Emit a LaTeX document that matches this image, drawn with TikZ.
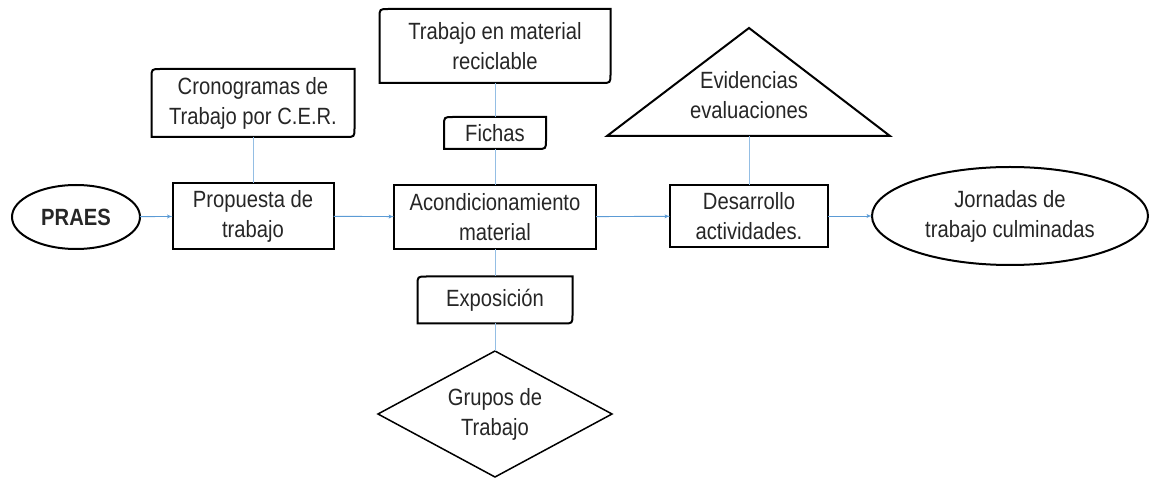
\documentclass[tikz,border=0pt]{standalone}
\usepackage{fontspec}
\setmainfont{Liberation Sans}[FakeStretch=0.86]
\usepackage{tikz}
\usetikzlibrary{positioning}
\usetikzlibrary{shapes,arrows}
\definecolor{linkblue}{RGB}{91,155,213}
\definecolor{txtgray}{RGB}{38,38,38}
\tikzstyle{block} = [rectangle, draw, line width=2bp, align=center,
    text=txtgray, outer sep=0pt, inner sep=0pt]
\tikzstyle{softbox} = [rectangle, align=center, text=txtgray,
    outer sep=0pt, inner sep=0pt]
\tikzstyle{oval} = [ellipse, draw, line width=2bp, align=center,
    text=txtgray, outer sep=0pt, inner sep=0pt]
\tikzstyle{decision} = [diamond, draw, line width=1.5bp, align=center,
    text=txtgray, outer sep=0pt, inner sep=0pt, aspect=1.9]
\tikzstyle{frame} = [draw, line width=2bp]
\tikzstyle{line} = [draw, linkblue, line width=0.9bp, -latex']
\tikzstyle{link} = [draw, linkblue!65, line width=0.9bp]
% box with two rounded corners (top left, bottom right)
\newcommand{\diagframe}[1]{%
  \draw[frame] ([yshift=-9bp]#1.north west) .. controls (#1.north west) ..
    ([xshift=9bp]#1.north west) -- (#1.north east) --
    ([yshift=9bp]#1.south east) .. controls (#1.south east) ..
    ([xshift=-9bp]#1.south east) -- (#1.south west) -- cycle;}

\begin{document}
\begin{tikzpicture}[x=1bp, y=-1bp, font=\fontsize{23.5bp}{30bp}\selectfont]
    \useasboundingbox (0,0) rectangle (1152,479);
        % Nodes
    \node [oval, minimum width=128bp, minimum height=64bp] (praes) at (76,217) {\textbf{PRAES}};
    \node [block, minimum width=161bp, minimum height=66bp] (propuesta) at (253,216) {Propuesta de\\trabajo};
    \node [softbox, minimum width=203bp, minimum height=68bp] (cronog) at (253,103) {Cronogramas de\\Trabajo por C.E.R.};
    \node [block, minimum width=202bp, minimum height=64bp] (acond) at (495,217) {Acondicionamiento\\material};
    \node [softbox, minimum width=231bp, minimum height=74bp] (reciclable) at (495,46) {Trabajo en material\\reciclable};
    \node [softbox, minimum width=102bp, minimum height=32bp] (fichas) at (495,133) {Fichas};
    \node [softbox, minimum width=155bp, minimum height=47bp] (expos) at (495,300) {Exposición};
    \node [decision, minimum width=234bp, minimum height=126bp] (grupos) at (495,414) {Grupos de\\Trabajo};
    \node [block, minimum width=158bp, minimum height=62bp] (desarrollo) at (749,216) {Desarrollo\\actividades.};
    \node [align=center, text=txtgray, inner sep=0pt] (evid) at (749,95) {Evidencias\\evaluaciones};
    \node [oval, minimum width=276bp, minimum height=98bp] (jornadas) at (1010,216) {Jornadas de\\trabajo culminadas};
    \coordinate (evidtop) at (749,28);
    \coordinate (evidleft) at (607,136);
    \coordinate (evidright) at (890,136);
    \coordinate (evidbase) at (749,136);
        % Frames
    \diagframe{cronog}
    \diagframe{reciclable}
    \diagframe{fichas}
    \diagframe{expos}
    \draw [frame] (evidtop) -- (evidright) -- (evidleft) -- cycle;
        % Edges
    \path [line] (praes) -- (propuesta);
    \path [line] (propuesta) -- (acond);
    \path [line] (acond) -- (desarrollo);
    \path [line] (desarrollo) -- (jornadas);
    \path [link] (cronog) -- (propuesta);
    \path [link] (reciclable) -- (fichas);
    \path [link] (fichas) -- (acond);
    \path [link] (acond) -- (expos);
    \path [link] (expos) -- (grupos);
    \path [link] (desarrollo) -- (evidbase);
\end{tikzpicture}
\end{document}
